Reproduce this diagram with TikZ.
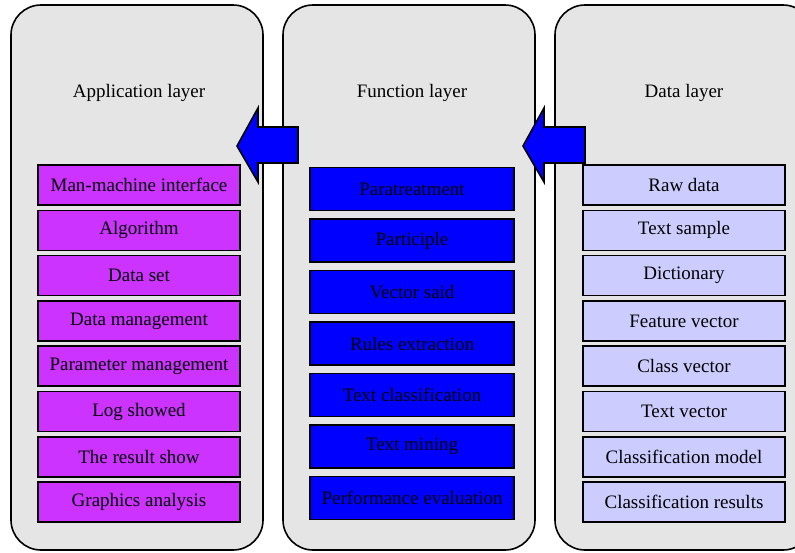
\documentclass[tikz,border=0pt]{standalone}
\usepackage{fontspec}
\setmainfont{Liberation Serif}
\definecolor{panelgray}{RGB}{229,229,229}
\definecolor{appfill}{RGB}{204,51,255}
\definecolor{funcfill}{RGB}{0,0,255}
\definecolor{datafill}{RGB}{204,204,255}
\tikzset{
    panel/.style={draw=black,line width=1.6pt,fill=panelgray,rounded corners=30pt},
    layerbox/.style={draw=black,line width=1.6pt,minimum width=202pt,minimum height=40pt,
        inner sep=0pt,font=\fontsize{19}{23}\selectfont},
    blockarrow/.style={draw=black,line width=1.6pt,fill=funcfill,line join=miter}
}
\begin{document}
\begin{tikzpicture}[x=1pt,y=-1pt]

\useasboundingbox (0,0) rectangle (795,552);

\begin{scope}
\clip (0,0) rectangle (795,552);

% the three layers
\draw[panel] (11,5) rectangle (263,550);
\draw[panel] (283,5) rectangle (535,550);
\draw[panel] (555,5) rectangle (813,550);

\node[font=\fontsize{19}{23}\selectfont] (apptitle) at (139,93) {Application layer};
\node[font=\fontsize{19}{23}\selectfont] (functitle) at (412,93) {Function layer};
\node[font=\fontsize{19}{23}\selectfont] (datatitle) at (684,93) {Data layer};

% arrows between the layers
\foreach \tip/\tail in {237/298,523/585}
{
    \draw[blockarrow] (\tail,127) -- (\tip+21,127) -- (\tip+21,108) -- (\tip,146)
        -- (\tip+21,182) -- (\tip+21,163) -- (\tail,163) -- cycle;
}

% application layer
\foreach \i/\t in {1/Man-machine interface,2/Algorithm,3/Data set,4/Data management,
    5/Parameter management,6/Log showed,7/The result show,8/Graphics analysis}
{
    \node[layerbox,fill=appfill] (app\i) at (139,{185+45.3*(\i-1)}) {\t};
}

% function layer
\foreach \i/\t in {1/Paratreatment,2/Participle,3/Vector said,4/Rules extraction,
    5/Text classification,6/Text mining,7/Performance evaluation}
{
    \node[layerbox,fill=funcfill,minimum width=204pt,minimum height=43pt] (func\i) at (412,{189+51.5*(\i-1)}) {\t};
}

% data layer
\foreach \i/\t in {1/Raw data,2/Text sample,3/Dictionary,4/Feature vector,
    5/Class vector,6/Text vector,7/Classification model,8/Classification results}
{
    \node[layerbox,fill=datafill] (data\i) at (684,{185+45.3*(\i-1)}) {\t};
}

\end{scope}

\end{tikzpicture}
\end{document}
